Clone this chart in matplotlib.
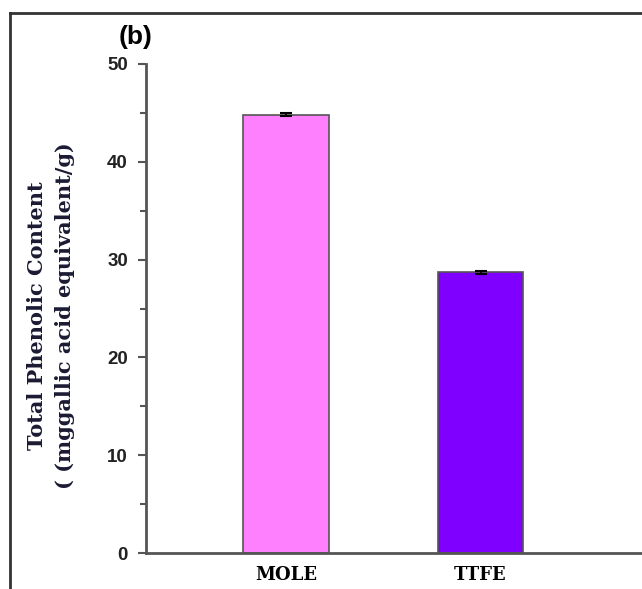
import matplotlib.pyplot as plt
from matplotlib.lines import Line2D
import numpy as np

# data
samples = ['MOLE', 'TTFE']
phenolic = [44.8, 28.7]
errors = [0.15, 0.15]
bar_colors = ['#FF80FF', '#8000FF']

fig = plt.figure(figsize=(6.42, 5.89), dpi=100)
ax = fig.add_axes([146/642, 36/589, 1 - 146/642, (553 - 64)/589])

x = np.arange(len(samples))
ax.bar(x, phenolic, width=0.44, color=bar_colors, edgecolor='#555555', linewidth=1.2,
       yerr=errors, capsize=4, error_kw=dict(ecolor='black', elinewidth=1.2, capthick=1.5))

ax.set_xlim(-0.72, 1.83)
ax.set_ylim(0, 50)
ax.set_yticks([0, 10, 20, 30, 40, 50])
ax.set_yticks([5, 15, 25, 35, 45], minor=True)
ax.set_xticks(x)
ax.set_xticklabels(samples, family='DejaVu Serif', fontweight='bold', fontsize=13)
for lab in ax.get_yticklabels():
    lab.set_family('Liberation Sans')
    lab.set_fontweight('bold')
    lab.set_fontsize(13.5)
    lab.set_color('#222222')

ax.tick_params(axis='y', which='major', length=6, width=1.5, color='#555555', pad=7)
ax.tick_params(axis='y', which='minor', length=4, width=1.5, color='#555555')
ax.tick_params(axis='x', length=0, pad=9)

ax.spines['top'].set_visible(False)
ax.spines['right'].set_visible(False)
for s in ['left', 'bottom']:
    ax.spines[s].set_color('#555555')
    ax.spines[s].set_linewidth(2)

fig.text(51/642, 1 - 316/589, 'Total Phenolic Content\n( (mggallic acid equivalent/g)',
         family='DejaVu Serif', fontweight='bold', fontsize=15, color='#1a1a33',
         rotation=90, ha='center', va='center', multialignment='center', linespacing=1.5)

fig.text(119/642, 1 - 37/589, '(b)', family='Liberation Sans', fontweight='bold',
         fontsize=19, va='center', ha='left')

# frame around the panel (only top and left visible)
fig.add_artist(Line2D([10/642, 1], [1 - 13/589, 1 - 13/589], color='#333333', linewidth=2))
fig.add_artist(Line2D([10/642, 10/642], [0, 1 - 13/589], color='#333333', linewidth=2))

fig.savefig('out.png', dpi=100)
